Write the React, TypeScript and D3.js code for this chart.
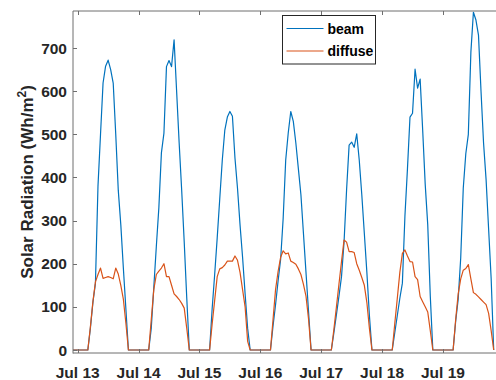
import { useEffect, useRef } from "react";
import * as d3 from "d3";

// hourly values, first point is Jul 12 22:00
const startTime = new Date(2019, 6, 12, 22);

// beam radiation (Wh/m2), one row per day
const beamJul12 = [0, 0];
const beamJul13 = [0, 0, 0, 0, 0, 50, 110, 155, 380, 500, 619, 658, 672, 650, 619, 500, 370, 290, 190, 95, 0, 0, 0, 0];
const beamJul14 = [0, 0, 0, 0, 0, 50, 145, 240, 330, 457, 503, 657, 671, 657, 719, 600, 480, 370, 250, 120, 0, 0, 0, 0];
const beamJul15 = [0, 0, 0, 0, 0, 95, 175, 260, 350, 440, 510, 540, 553, 542, 445, 375, 290, 215, 130, 50, 0, 0, 0, 0];
const beamJul16 = [0, 0, 0, 0, 0, 55, 105, 160, 210, 305, 440, 503, 553, 530, 480, 420, 360, 270, 180, 90, 0, 0, 0, 0];
const beamJul17 = [0, 0, 0, 0, 0, 40, 82, 125, 170, 250, 371, 475, 482, 470, 501, 440, 360, 270, 180, 80, 0, 0, 0, 0];
const beamJul18 = [0, 0, 0, 0, 0, 40, 80, 120, 155, 310, 420, 540, 549, 651, 607, 628, 510, 384, 290, 125, 0, 0, 0, 0];
const beamJul19 = [0, 0, 0, 0, 0, 66, 118, 214, 375, 455, 500, 690, 783, 765, 730, 600, 480, 395, 280, 165, 0];

// diffuse radiation (Wh/m2)
const diffuseJul12 = [0, 0];
const diffuseJul13 = [0, 0, 0, 0, 0, 53, 112, 158, 175, 190, 166, 168, 170, 168, 165, 190, 176, 150, 118, 62, 0, 0, 0, 0];
const diffuseJul14 = [0, 0, 0, 0, 0, 70, 140, 175, 183, 190, 200, 170, 170, 150, 130, 124, 117, 108, 97, 50, 0, 0, 0, 0];
const diffuseJul15 = [0, 0, 0, 0, 0, 60, 115, 170, 188, 191, 197, 206, 206, 206, 218, 208, 180, 140, 100, 20, 0, 0, 0, 0];
const diffuseJul16 = [0, 0, 0, 0, 0, 70, 140, 182, 215, 230, 223, 225, 206, 203, 199, 188, 175, 152, 125, 72, 0, 0, 0, 0];
const diffuseJul17 = [0, 0, 0, 0, 0, 48, 100, 153, 205, 255, 250, 228, 228, 226, 200, 185, 168, 150, 110, 50, 0, 0, 0, 0];
const diffuseJul18 = [0, 0, 0, 0, 0, 61, 120, 180, 224, 232, 218, 205, 204, 170, 163, 124, 112, 100, 88, 45, 0, 0, 0, 0];
const diffuseJul19 = [0, 0, 0, 0, 0, 70, 130, 165, 185, 189, 198, 165, 133, 129, 123, 117, 111, 105, 85, 45, 0];

const beam = [beamJul12, beamJul13, beamJul14, beamJul15, beamJul16, beamJul17, beamJul18, beamJul19].flat();
const diffuse = [diffuseJul12, diffuseJul13, diffuseJul14, diffuseJul15, diffuseJul16, diffuseJul17, diffuseJul18, diffuseJul19].flat();

const seriesNames = ["beam", "diffuse"];
const colors = ["#0072BD", "#D95319"];
const yTicks = [0, 100, 200, 300, 400, 500, 600, 700];

const W = 496;
const H = 380;
const FONT = "'Liberation Sans', Arial, sans-serif";

const App = () => {
  const ref = useRef<SVGSVGElement | null>(null);

  useEffect(() => {
    const svg = d3.select(ref.current);
    svg.selectAll("*").remove();

    const left = 73;
    const right = 497; // box runs past the picture edge
    const top = 11;
    const bottom = 353;

    const times = beam.map((_, i) => d3.timeHour.offset(startTime, i));

    const x = d3
      .scaleTime()
      .domain([new Date(2019, 6, 12, 22, 9), new Date(2019, 6, 19, 21, 18)])
      .range([left, right]);
    const y = d3.scaleLinear().domain([-7, 786]).range([bottom, top]);

    svg
      .append("defs")
      .append("clipPath")
      .attr("id", "plot-clip")
      .append("rect")
      .attr("x", left)
      .attr("y", top)
      .attr("width", right - left)
      .attr("height", bottom - top);

    const line = d3
      .line<number>()
      .x((_, i) => x(times[i]))
      .y((d) => y(d));

    const g = svg.append("g").attr("clip-path", "url(#plot-clip)");
    [beam, diffuse].forEach((vals, i) => {
      g.append("path")
        .datum(vals)
        .attr("d", line)
        .attr("fill", "none")
        .attr("stroke", colors[i])
        .attr("stroke-width", 1.2)
        .attr("stroke-linejoin", "round");
    });

    // axes frame
    const axisColor = "#6e6e6e";
    const frame = svg.append("g").attr("stroke", axisColor).attr("stroke-width", 1);
    frame.append("line").attr("x1", left).attr("x2", left).attr("y1", top).attr("y2", bottom + 0.5);
    frame.append("line").attr("x1", left).attr("x2", right).attr("y1", bottom).attr("y2", bottom);
    frame.append("line").attr("x1", left).attr("x2", right).attr("y1", top).attr("y2", top);

    const xTicks = d3.timeDay.range(new Date(2019, 6, 13), new Date(2019, 6, 20));
    const fmt = d3.timeFormat("%b %-d");

    frame
      .selectAll(".xt-b")
      .data(xTicks)
      .enter()
      .append("line")
      .attr("x1", (d) => Math.round(x(d)) + 0.5)
      .attr("x2", (d) => Math.round(x(d)) + 0.5)
      .attr("y1", bottom)
      .attr("y2", bottom - 4);
    frame
      .selectAll(".xt-t")
      .data(xTicks)
      .enter()
      .append("line")
      .attr("x1", (d) => Math.round(x(d)) + 0.5)
      .attr("x2", (d) => Math.round(x(d)) + 0.5)
      .attr("y1", top)
      .attr("y2", top + 4);
    frame
      .selectAll(".yt")
      .data(yTicks)
      .enter()
      .append("line")
      .attr("x1", left)
      .attr("x2", left + 4)
      .attr("y1", (d) => Math.round(y(d)) + 0.5)
      .attr("y2", (d) => Math.round(y(d)) + 0.5);

    svg
      .append("g")
      .selectAll("text")
      .data(xTicks)
      .enter()
      .append("text")
      .attr("x", (d) => x(d))
      .attr("y", 378)
      .attr("text-anchor", "middle")
      .attr("font-family", FONT)
      .attr("font-weight", "bold")
      .attr("font-size", "15.5px")
      .attr("fill", "#262626")
      .text((d) => fmt(d));

    svg
      .append("g")
      .selectAll("text")
      .data(yTicks)
      .enter()
      .append("text")
      .attr("x", 67)
      .attr("y", (d) => y(d))
      .attr("dy", "0.36em")
      .attr("text-anchor", "end")
      .attr("font-family", FONT)
      .attr("font-weight", "bold")
      .attr("font-size", "15.5px")
      .attr("fill", "#262626")
      .text((d) => d);

    const ylab = svg
      .append("text")
      .attr("transform", `translate(33,${(top + bottom) / 2}) rotate(-90)`)
      .attr("text-anchor", "middle")
      .attr("font-family", FONT)
      .attr("font-weight", "bold")
      .attr("font-size", "17px")
      .attr("fill", "#262626");
    ylab.append("tspan").text("Solar Radiation (Wh/m");
    ylab.append("tspan").attr("font-size", "12px").attr("dy", "-7").text("2");
    ylab.append("tspan").attr("dy", "7").text(")");

    // legend
    const legend = svg.append("g").attr("transform", "translate(282.5,15.5)");
    legend
      .append("rect")
      .attr("width", 93)
      .attr("height", 48.5)
      .attr("fill", "#fff")
      .attr("stroke", "#262626")
      .attr("stroke-width", 1);
    seriesNames.forEach((name, i) => {
      const ly = 13 + i * 22.5;
      legend
        .append("line")
        .attr("x1", 4)
        .attr("x2", 41)
        .attr("y1", ly)
        .attr("y2", ly)
        .attr("stroke", colors[i])
        .attr("stroke-width", 1.2);
      legend
        .append("text")
        .attr("x", 45)
        .attr("y", ly)
        .attr("dy", "0.36em")
        .attr("font-family", FONT)
        .attr("font-weight", "bold")
        .attr("font-size", "14px")
        .attr("fill", "#000")
        .text(name);
    });
  }, []);

  return (
    <svg
      ref={ref}
      width={W}
      height={H}
      style={{ position: "absolute", left: 0, top: 0, background: "#fff" }}
    />
  );
};

export default App;
